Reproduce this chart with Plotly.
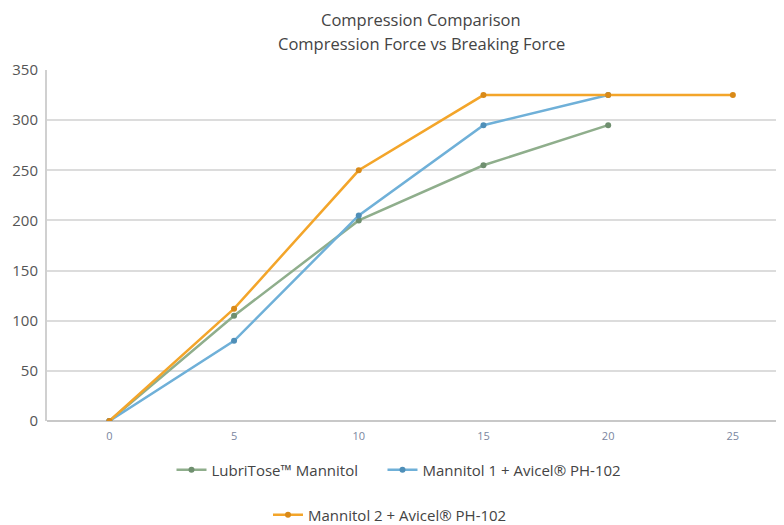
import plotly.graph_objects as go

x_cats = ["0", "5", "10", "15", "20", "25"]
lubritose = [0, 105, 200, 255, 295]
mannitol1 = [0, 80, 205, 295, 325]
mannitol2 = [0, 112, 250, 325, 325, 325]
names = ["LubriTose™ Mannitol", "Mannitol 1 + Avicel® PH-102", "Mannitol 2 + Avicel® PH-102"]
y_ticks = [0, 50, 100, 150, 200, 250, 300, 350]

colors = ["#8fae8c", "#6fb0d8", "#f3a52a"]
marker_colors = ["#6f8f6f", "#4f8fb8", "#d98a18"]
legend_ids = ["legend", "legend", "legend2"]
legend_pad = ["\u00a0" * 5, "", ""]

W, H = 776, 540
L, T = 39, 62
PLOT_BOTTOM = 413
B = H - PLOT_BOTTOM
plot_h = PLOT_BOTTOM - T
plot_w = W - L

def py(fig_y):
    return (PLOT_BOTTOM - fig_y) / plot_h

def px(fig_x):
    return (fig_x - L) / plot_w

fig = go.Figure()
for name, vals, c, mc, lg, pad in zip(names, [lubritose, mannitol1, mannitol2], colors, marker_colors, legend_ids, legend_pad):
    fig.add_trace(go.Scatter(
        x=x_cats[:len(vals)], y=vals, name=name + pad, mode="lines+markers",
        line=dict(color=c, width=2.5),
        marker=dict(color=mc, size=6, line=dict(width=0)),
        legend=lg,
    ))

title_font = dict(family="Open Sans", size=16.5, color="#444")
fig.add_annotation(text="Compression Comparison", xref="paper", yref="paper",
                   x=px(413), y=py(-1), xanchor="center", yanchor="top",
                   showarrow=False, font=title_font, borderpad=0)
fig.add_annotation(text="Compression Force vs Breaking Force", xref="paper", yref="paper",
                   x=px(413), y=py(35), xanchor="center", yanchor="middle",
                   showarrow=False, font=title_font)

legend_font = dict(family="Open Sans", size=15, color="#444")
fig.update_layout(
    width=W, height=H,
    margin=dict(l=L, r=0, t=T, b=B),
    paper_bgcolor="white", plot_bgcolor="white",
    font=dict(family="Open Sans", color="#444"),
    xaxis=dict(
        type="category", categoryorder="array", categoryarray=x_cats,
        range=[-0.5, 5.41], showgrid=False, zeroline=False, automargin=False,
        showline=False, ticks="", tickfont=dict(size=11, color="#7a86a0"),
        ticklabelstandoff=7,
    ),
    yaxis=dict(
        range=[0, 350], tickvals=y_ticks, showgrid=True, gridcolor="#dcdcdc", gridwidth=1.5,
        zeroline=True, zerolinecolor="#c8c8c8", zerolinewidth=2, automargin=False,
        showline=True, linecolor="#d0d0d0", linewidth=2,
        ticks="", tickfont=dict(size=15, color="#555"), ticklabelstandoff=4,
    ),
    legend=dict(
        orientation="h", x=px(391), xanchor="center", y=py(462), yanchor="middle",
        font=legend_font, bgcolor="rgba(0,0,0,0)",
    ),
    legend2=dict(
        orientation="h", x=px(382), xanchor="center", y=py(507), yanchor="middle",
        font=legend_font, bgcolor="rgba(0,0,0,0)",
    ),
)

fig.write_html("out.html")
